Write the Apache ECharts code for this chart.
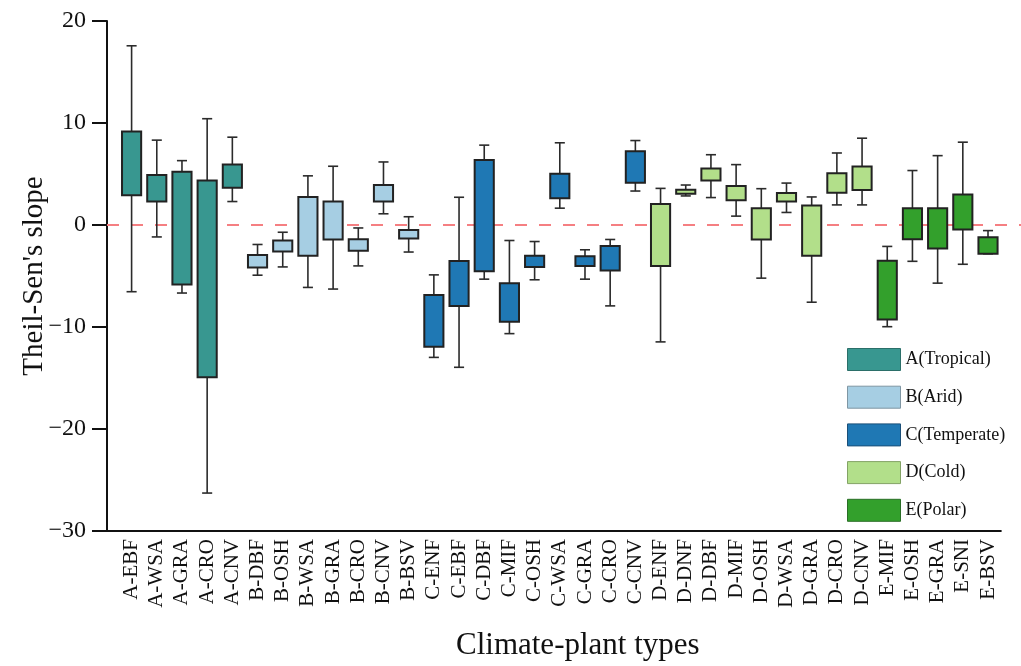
<!DOCTYPE html>
<html>
<head>
<meta charset="utf-8">
<script src="https://cdn.jsdelivr.net/npm/echarts@6/dist/echarts.min.js"></script>
<style>html,body{margin:0;padding:0;background:#fff;}#c{width:1021px;height:666px;}</style>
</head>
<body>
<div id="c"></div>
<script>
const categories = ['A-EBF','A-WSA','A-GRA','A-CRO','A-CNV','B-DBF','B-OSH','B-WSA','B-GRA','B-CRO','B-CNV','B-BSV','C-ENF','C-EBF','C-DBF','C-MIF','C-OSH','C-WSA','C-GRA','C-CRO','C-CNV','D-ENF','D-DNF','D-DBF','D-MIF','D-OSH','D-WSA','D-GRA','D-CRO','D-CNV','E-MIF','E-OSH','E-GRA','E-SNI','E-BSV'];
const groupOf = ['A','A','A','A','A','B','B','B','B','B','B','B','C','C','C','C','C','C','C','C','C','D','D','D','D','D','D','D','D','D','E','E','E','E','E'];
const whiskerLow = [-6.54,-1.17,-6.67,-26.28,2.30,-4.92,-4.11,-6.12,-6.28,-4.01,1.10,-2.65,-12.98,-13.95,-5.31,-10.65,-5.37,1.65,-5.31,-7.93,3.33,-11.46,2.85,2.69,0.87,-5.21,1.23,-7.57,1.97,1.97,-9.97,-3.56,-5.70,-3.85,-2.82];
const boxLow    = [2.91,2.30,-5.83,-14.92,3.66,-4.17,-2.59,-3.01,-1.42,-2.52,2.30,-1.33,-11.94,-7.93,-4.53,-9.48,-4.11,2.62,-4.01,-4.47,4.14,-4.01,3.07,4.37,2.43,-1.42,2.30,-3.01,3.17,3.43,-9.26,-1.39,-2.30,-0.45,-2.82];
const boxHigh   = [9.16,4.89,5.21,4.37,5.92,-2.94,-1.52,2.75,2.30,-1.39,3.92,-0.49,-6.86,-3.53,6.38,-5.70,-3.01,5.02,-3.07,-2.07,7.22,2.07,3.46,5.53,3.82,1.65,3.14,1.91,5.08,5.73,-3.50,1.65,1.65,2.98,-1.20];
const whiskerHigh = [17.57,8.32,6.31,10.42,8.61,-1.91,-0.71,4.82,5.76,-0.29,6.18,0.81,-4.89,2.72,7.83,-1.52,-1.62,8.06,-2.43,-1.42,8.28,3.59,3.92,6.89,5.92,3.56,4.11,2.75,7.06,8.51,-2.10,5.34,6.80,8.12,-0.55];
const groupKeys = ['A','B','C','D','E'];
const groupNames = ['A(Tropical)','B(Arid)','C(Temperate)','D(Cold)','E(Polar)'];
const groupColors = ['#389790','#a6cee3','#1f78b4','#b2df8a','#33a02c'];
const groupBorders = ['#2b6f69','#7f96a3','#1b4f78','#83a365','#2a6e26'];

const FONT = '"Liberation Serif","Times New Roman",serif';
const chart = echarts.init(document.getElementById('c'), null, {renderer:'canvas'});

function renderBox(params, api){
  const x = api.value(0);
  const lo = api.coord([x, api.value(1)]);
  const q1 = api.coord([x, api.value(2)]);
  const q3 = api.coord([x, api.value(3)]);
  const hi = api.coord([x, api.value(4)]);
  const band = api.size([1,0])[0];
  const bw = band*0.76, cw = band*0.4;
  const cx = q1[0];
  const ls = {stroke:'#2b2b2b', lineWidth:1.6};
  return {type:'group', children:[
    {type:'line', shape:{x1:cx,y1:hi[1],x2:cx,y2:lo[1]}, style:ls},
    {type:'line', shape:{x1:cx-cw/2,y1:hi[1],x2:cx+cw/2,y2:hi[1]}, style:ls},
    {type:'line', shape:{x1:cx-cw/2,y1:lo[1],x2:cx+cw/2,y2:lo[1]}, style:ls},
    {type:'rect', shape:{x:cx-bw/2,y:q3[1],width:bw,height:Math.max(q1[1]-q3[1],1)},
      style:{fill:api.visual('color'), stroke:'#222', lineWidth:2}}
  ]};
}

const series = groupKeys.map((g, gi) => {
  const data = [];
  categories.forEach((c, i) => {
    if (groupOf[i] === g) data.push([i, whiskerLow[i], boxLow[i], boxHigh[i], whiskerHigh[i]]);
  });
  return {
    type:'custom', name:groupNames[gi], renderItem:renderBox, data:data,
    encode:{x:0, y:[1,2,3,4]},
    itemStyle:{color:groupColors[gi]}, z:3
  };
});

chart.setOption({
  animation:false,
  backgroundColor:'#fff',
  grid:{left:119, right:20.4, top:21, bottom:130},
  legend:{
    orient:'vertical', left:847, top:348, padding:0, itemWidth:53, itemHeight:22, itemGap:14.7,
    icon:'rect',
    textStyle:{fontFamily:FONT, fontSize:18, color:'#111'},
    data: groupNames.map((n,i)=>({name:n, itemStyle:{color:groupColors[i], borderColor:groupBorders[i], borderWidth:1}}))
  },
  xAxis:{
    type:'category', data:categories, boundaryGap:true,
    axisLine:{show:false}, axisTick:{show:false},
    axisLabel:{rotate:90, interval:0, fontFamily:FONT, fontSize:21, color:'#111', margin:8},
    name:'Climate-plant types', nameLocation:'middle', nameGap:99, nameMoveOverlap:false,
    nameTextStyle:{fontFamily:FONT, fontSize:31, color:'#111', padding:[0,0,0,36]}
  },
  yAxis:{
    type:'value', min:-30, max:20, interval:10, offset:12,
    splitLine:{show:false},
    axisLine:{show:true, lineStyle:{color:'#111', width:2}},
    axisTick:{show:true, length:15, inside:false, lineStyle:{color:'#111', width:2}},
    axisLabel:{fontFamily:FONT, fontSize:24, color:'#111', margin:21,
      formatter:v => (v<0 ? '\u2212'+Math.abs(v) : String(v))},
    name:'Theil-Sen\'s slope', nameLocation:'middle', nameGap:58, nameRotate:90, nameMoveOverlap:false,
    nameTextStyle:{fontFamily:FONT, fontSize:29, color:'#111'}
  },
  series: series
});

// bottom axis line and zero reference line, positioned via the chart's own scales
const pBottomL = chart.convertToPixel({gridIndex:0}, [0, -30]);
const pZero = chart.convertToPixel({gridIndex:0}, [0, 0]);
const gridRect = chart.getModel().getComponent('grid').coordinateSystem.getRect();
const yAxisX = gridRect.x - 12;
chart.setOption({
  graphic:[
    {type:'line', z:10, shape:{x1:yAxisX-1, y1:pBottomL[1], x2:gridRect.x+gridRect.width+1, y2:pBottomL[1]}, style:{stroke:'#111', lineWidth:2}},
    {type:'line', z:1, shape:{x1:yAxisX, y1:pZero[1], x2:1021, y2:pZero[1]}, style:{stroke:'#f57f82', lineWidth:2, lineDash:[12,12]}}
  ]
});
</script>
</body>
</html>
